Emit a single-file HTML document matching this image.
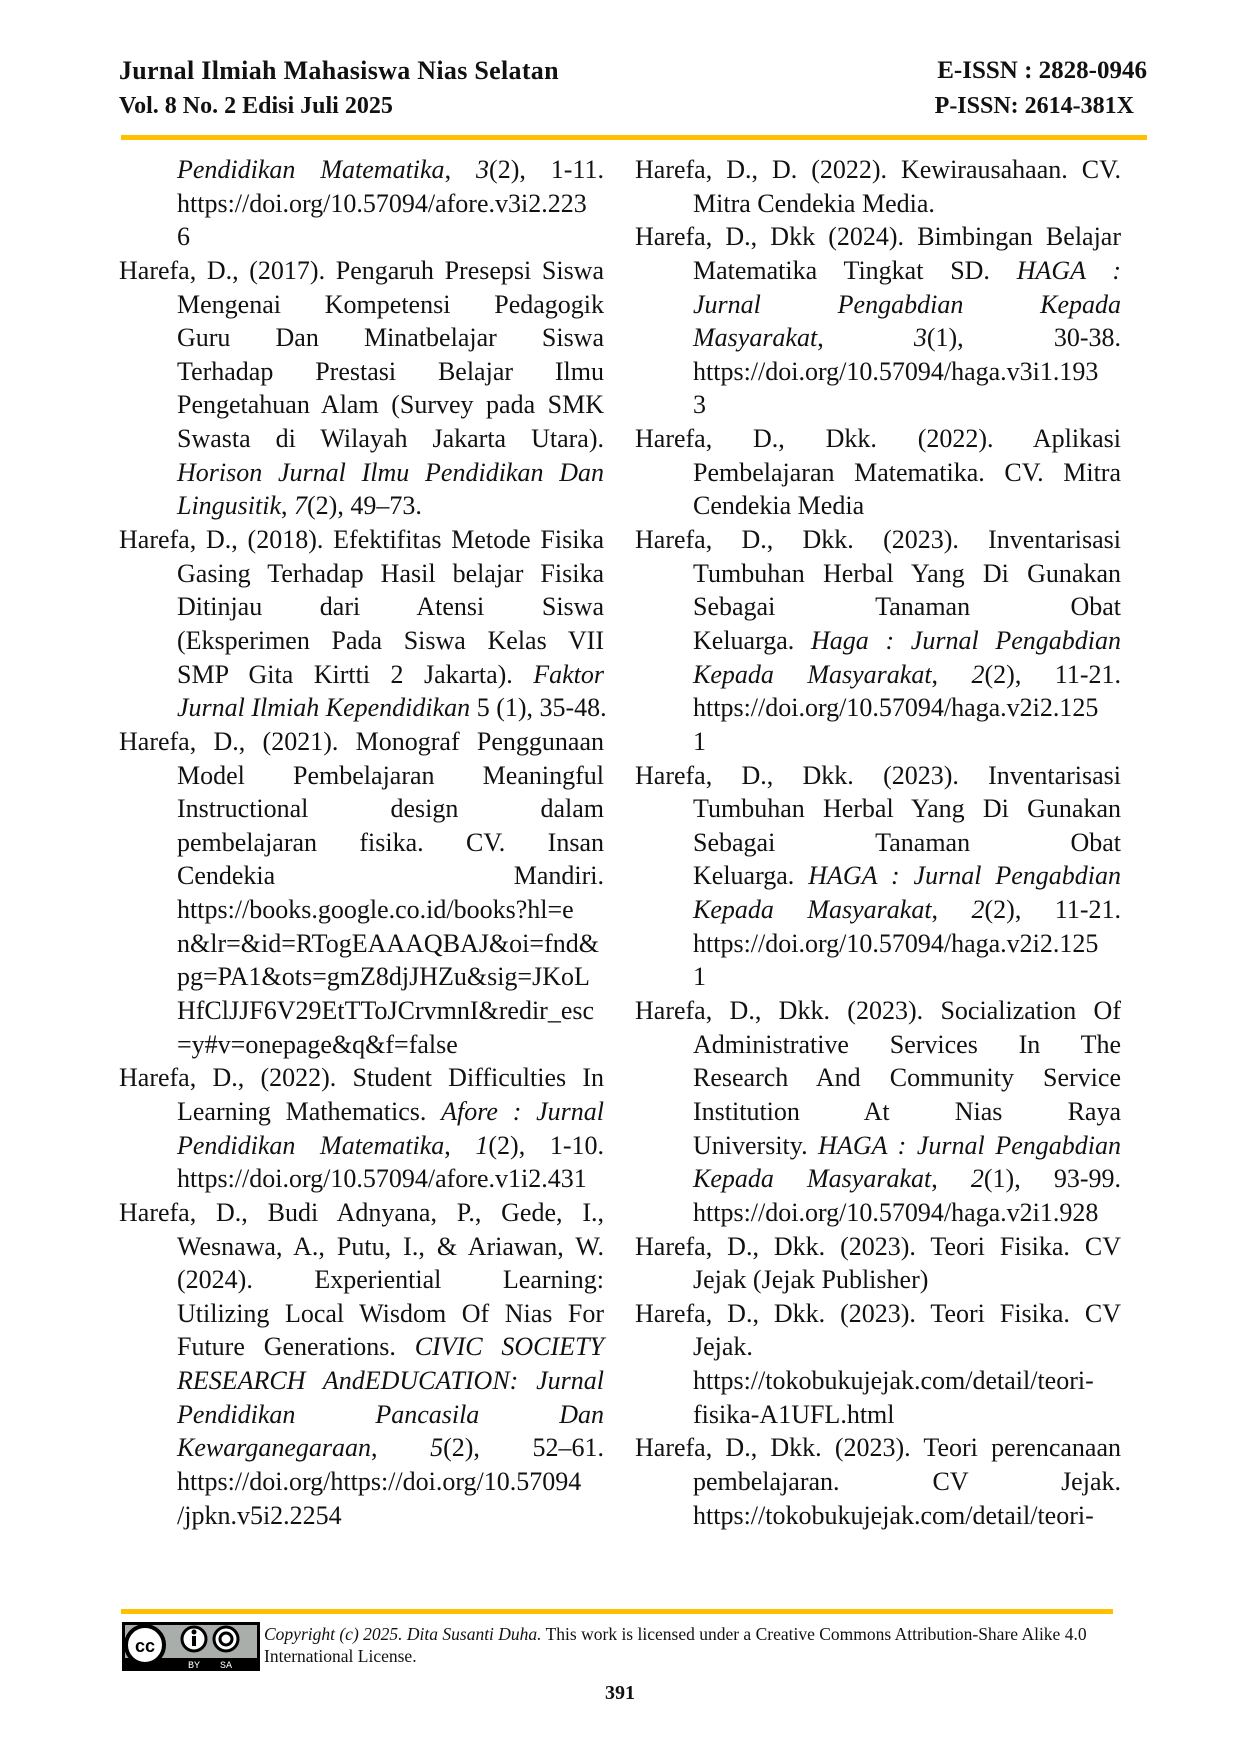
<!DOCTYPE html>
<html><head><meta charset="utf-8"><style>
body{margin:0;background:#fff}
#p{position:relative;width:1240px;height:1754px;overflow:hidden;font-family:"Liberation Serif",serif;color:#111}
.h{position:absolute;font-weight:bold;font-size:26px;line-height:28px;white-space:nowrap}
.bar{position:absolute;background:#FFC000}
.col{position:absolute;top:153px;font-size:26px}
.col div{height:33.65px;line-height:33.65px;white-space:nowrap;text-align:justify;text-align-last:justify}
.col div.i{padding-left:58px}
.col div.l{text-align-last:left}
</style></head><body><div id="p">
<div class="h" style="left:119px;top:57px;letter-spacing:0.3px">Jurnal Ilmiah Mahasiswa Nias Selatan</div>
<div class="h" style="left:119px;top:92px;font-size:24px">Vol. 8 No. 2 Edisi Juli 2025</div>
<div class="h" style="right:93px;top:57px;font-size:25px">E-ISSN : 2828-0946</div>
<div class="h" style="right:106px;top:92px;font-size:24px">P-ISSN: 2614-381X</div>
<div class="bar" style="left:121px;top:135px;width:1026px;height:5px"></div>

<div class="col" style="left:119px;width:485px">
<div class="i"><i>Pendidikan Matematika</i>, <i>3</i>(2), 1-11.</div>
<div class="i l">https://doi.org/10.57094/afore.v3i2.223</div>
<div class="i l">6</div>
<div>Harefa, D., (2017). Pengaruh Presepsi Siswa</div>
<div class="i">Mengenai Kompetensi Pedagogik</div>
<div class="i">Guru Dan Minatbelajar Siswa</div>
<div class="i">Terhadap Prestasi Belajar Ilmu</div>
<div class="i">Pengetahuan Alam (Survey pada SMK</div>
<div class="i">Swasta di Wilayah Jakarta Utara).</div>
<div class="i"><i>Horison Jurnal Ilmu Pendidikan Dan</i></div>
<div class="i l"><i>Lingusitik</i>, <i>7</i>(2), 49–73.</div>
<div>Harefa, D., (2018). Efektifitas Metode Fisika</div>
<div class="i">Gasing Terhadap Hasil belajar Fisika</div>
<div class="i">Ditinjau dari Atensi Siswa</div>
<div class="i">(Eksperimen Pada Siswa Kelas VII</div>
<div class="i">SMP Gita Kirtti 2 Jakarta). <i>Faktor</i></div>
<div class="i l"><i>Jurnal Ilmiah Kependidikan</i> 5 (1), 35-48.</div>
<div>Harefa, D., (2021). Monograf Penggunaan</div>
<div class="i">Model Pembelajaran Meaningful</div>
<div class="i">Instructional design dalam</div>
<div class="i">pembelajaran fisika. CV. Insan</div>
<div class="i">Cendekia Mandiri.</div>
<div class="i l">https://books.google.co.id/books?hl=e</div>
<div class="i l">n&amp;lr=&amp;id=RTogEAAAQBAJ&amp;oi=fnd&amp;</div>
<div class="i l">pg=PA1&amp;ots=gmZ8djJHZu&amp;sig=JKoL</div>
<div class="i l">HfClJJF6V29EtTToJCrvmnI&amp;redir_esc</div>
<div class="i l">=y#v=onepage&amp;q&amp;f=false</div>
<div>Harefa, D., (2022). Student Difficulties In</div>
<div class="i">Learning Mathematics. <i>Afore : Jurnal</i></div>
<div class="i"><i>Pendidikan Matematika</i>, <i>1</i>(2), 1-10.</div>
<div class="i l">https://doi.org/10.57094/afore.v1i2.431</div>
<div>Harefa, D., Budi Adnyana, P., Gede, I.,</div>
<div class="i">Wesnawa, A., Putu, I., &amp; Ariawan, W.</div>
<div class="i">(2024). Experiential Learning:</div>
<div class="i">Utilizing Local Wisdom Of Nias For</div>
<div class="i">Future Generations. <i>CIVIC SOCIETY</i></div>
<div class="i"><i>RESEARCH AndEDUCATION: Jurnal</i></div>
<div class="i"><i>Pendidikan Pancasila Dan</i></div>
<div class="i"><i>Kewarganegaraan</i>, <i>5</i>(2), 52–61.</div>
<div class="i l">https://doi.org/https://doi.org/10.57094</div>
<div class="i l">/jpkn.v5i2.2254</div>
</div>

<div class="col" style="left:635px;width:486px">
<div>Harefa, D., D. (2022). Kewirausahaan. CV.</div>
<div class="i l">Mitra Cendekia Media.</div>
<div>Harefa, D., Dkk (2024). Bimbingan Belajar</div>
<div class="i">Matematika Tingkat SD. <i>HAGA :</i></div>
<div class="i"><i>Jurnal Pengabdian Kepada</i></div>
<div class="i"><i>Masyarakat</i>, <i>3</i>(1), 30-38.</div>
<div class="i l">https://doi.org/10.57094/haga.v3i1.193</div>
<div class="i l">3</div>
<div>Harefa, D., Dkk. (2022). Aplikasi</div>
<div class="i">Pembelajaran Matematika. CV. Mitra</div>
<div class="i l">Cendekia Media</div>
<div>Harefa, D., Dkk. (2023). Inventarisasi</div>
<div class="i">Tumbuhan Herbal Yang Di Gunakan</div>
<div class="i">Sebagai Tanaman Obat</div>
<div class="i">Keluarga. <i>Haga : Jurnal Pengabdian</i></div>
<div class="i"><i>Kepada Masyarakat</i>, <i>2</i>(2), 11-21.</div>
<div class="i l">https://doi.org/10.57094/haga.v2i2.125</div>
<div class="i l">1</div>
<div>Harefa, D., Dkk. (2023). Inventarisasi</div>
<div class="i">Tumbuhan Herbal Yang Di Gunakan</div>
<div class="i">Sebagai Tanaman Obat</div>
<div class="i">Keluarga. <i>HAGA : Jurnal Pengabdian</i></div>
<div class="i"><i>Kepada Masyarakat</i>, <i>2</i>(2), 11-21.</div>
<div class="i l">https://doi.org/10.57094/haga.v2i2.125</div>
<div class="i l">1</div>
<div>Harefa, D., Dkk. (2023). Socialization Of</div>
<div class="i">Administrative Services In The</div>
<div class="i">Research And Community Service</div>
<div class="i">Institution At Nias Raya</div>
<div class="i">University. <i>HAGA : Jurnal Pengabdian</i></div>
<div class="i"><i>Kepada Masyarakat</i>, <i>2</i>(1), 93-99.</div>
<div class="i l">https://doi.org/10.57094/haga.v2i1.928</div>
<div>Harefa, D., Dkk. (2023). Teori Fisika. CV</div>
<div class="i l">Jejak (Jejak Publisher)</div>
<div>Harefa, D., Dkk. (2023). Teori Fisika. CV</div>
<div class="i l">Jejak.</div>
<div class="i l">https://tokobukujejak.com/detail/teori-</div>
<div class="i l">fisika-A1UFL.html</div>
<div>Harefa, D., Dkk. (2023). Teori perencanaan</div>
<div class="i">pembelajaran. CV Jejak.</div>
<div class="i l">https://tokobukujejak.com/detail/teori-</div>
</div>

<div class="bar" style="left:121px;top:1609px;width:992px;height:5px"></div>
<svg style="position:absolute;left:122px;top:1622px" width="138" height="49" viewBox="0 0 138 49">
<rect x="0" y="0" width="138" height="49" fill="#000"/>
<rect x="3" y="3" width="132" height="33" fill="#aaaeab"/>
<circle cx="23" cy="23" r="19" fill="#fff" stroke="#000" stroke-width="4"/>
<text x="23" y="30" font-family="Liberation Sans" font-weight="bold" font-size="18" text-anchor="middle">cc</text>
<circle cx="72" cy="17" r="12" fill="#fff" stroke="#000" stroke-width="3"/>
<rect x="70" y="14" width="4" height="10" fill="#000"/><circle cx="72" cy="10" r="2.5" fill="#000"/>
<circle cx="104" cy="17" r="12" fill="#fff" stroke="#000" stroke-width="3"/>
<circle cx="104" cy="17" r="6" fill="none" stroke="#000" stroke-width="3"/>
<text x="72" y="46" fill="#fff" font-family="Liberation Mono" font-size="10" text-anchor="middle">BY</text>
<text x="104" y="46" fill="#fff" font-family="Liberation Mono" font-size="10" text-anchor="middle">SA</text>
</svg>
<div style="position:absolute;left:264px;top:1623px;font-size:17.5px;line-height:22px;width:880px;white-space:nowrap"><i>Copyright (c) 2025. Dita Susanti Duha.</i> This work is licensed under a Creative Commons Attribution-Share Alike 4.0<br>International License.</div>
<div style="position:absolute;left:0;width:1240px;top:1682px;text-align:center;font-weight:bold;font-size:20px">391</div>
</div></body></html>
